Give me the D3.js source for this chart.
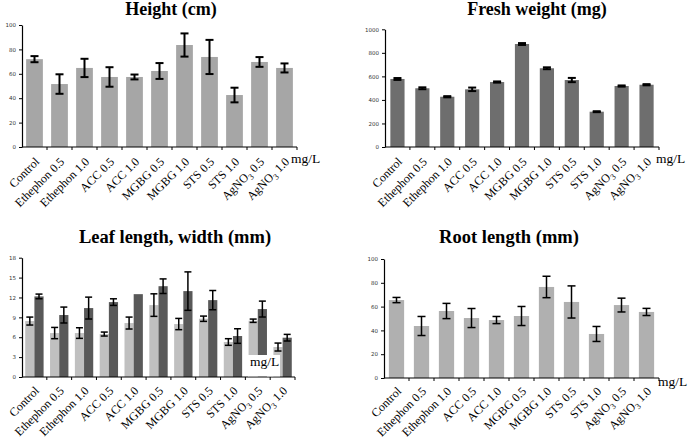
<!DOCTYPE html>
<html>
<head>
<meta charset="utf-8">
<script src="https://cdn.jsdelivr.net/npm/d3@7"></script>
<style>
  html, body { margin: 0; padding: 0; background: #fff; }
  svg { display: block; }
</style>
</head>
<body>
<svg id="chart" width="692" height="441"></svg>
<script>
const categories = ["Control","Ethephon 0.5","Ethephon 1.0","ACC 0.5","ACC 1.0","MGBG 0.5","MGBG 1.0","STS 0.5","STS 1.0","AgNO3 0.5","AgNO3 1.0"];

const heightMean = [72, 51.6, 64.8, 57.4, 57.4, 62.3, 83.6, 73.8, 42.6, 69.7, 64.8];
const heightErr  = [2.5, 8, 7.5, 8, 2, 6.5, 9.5, 14, 6, 4, 3.7];
const heightTicks = [0, 20, 40, 60, 80, 100];

const freshMean = [578, 499, 427, 490, 552, 875, 669, 569, 300, 518, 529];
const freshErr  = [8, 8, 5, 15, 5, 8, 8, 18, 4, 5, 5];
const freshTicks = [0, 200, 400, 600, 800, 1000];

const leafWidthMean  = [8.44, 6.63, 6.63, 6.48, 8.14, 10.85, 7.99, 8.79, 5.28, 8.49, 4.52];
const leafWidthErr   = [0.6, 0.85, 0.8, 0.3, 0.9, 1.7, 0.85, 0.4, 0.5, 0.25, 0.6];
const leafLengthMean = [12.16, 9.35, 10.4, 11.3, 12.5, 13.7, 12.96, 11.6, 6.18, 10.25, 5.93];
const leafLengthErr  = [0.35, 1.2, 1.65, 0.5, 0, 1.1, 2.9, 1.45, 1.1, 1.2, 0.5];
const leafTicks = [0, 3, 6, 9, 12, 15, 18];

const rootMean = [65.5, 43.7, 56.3, 50.4, 48.7, 52.1, 76.5, 63.9, 37, 61.3, 55.5];
const rootErr  = [2.2, 8, 6.4, 8, 3, 8, 9, 13.5, 6.3, 5.8, 3];
const rootTicks = [0, 20, 40, 60, 80, 100];

const svg = d3.select("#chart");
const SERIF = "'Liberation Serif','Times New Roman',serif";

function drawPanel(cfg) {
  const g = svg.append("g");
  const x = d3.scaleBand().domain(categories).range([cfg.x0, cfg.x1])
    .paddingInner(cfg.pad).paddingOuter(cfg.pad / 2);
  const y = d3.scaleLinear().domain([0, cfg.max]).range([cfg.y0, cfg.yTop]);

  // title
  g.append("text").attr("x", cfg.tx).attr("y", cfg.ty)
    .attr("text-anchor", "middle").attr("font-family", SERIF)
    .attr("font-weight", "bold").attr("font-size", cfg.tsize)
    .text(cfg.title);

  // series
  cfg.series.forEach((s, si) => {
    const n = cfg.series.length;
    const sub = d3.scaleBand().domain(d3.range(n)).range([0, x.bandwidth()]);
    const bw = sub.bandwidth();
    const bars = g.append("g");
    bars.selectAll("rect").data(categories).join("rect")
      .attr("x", d => x(d) + sub(si))
      .attr("width", bw)
      .attr("y", (d, i) => y(s.mean[i]))
      .attr("height", (d, i) => y(0) - y(s.mean[i]))
      .attr("fill", s.color);
    const eb = g.append("g").attr("stroke", "#000").attr("stroke-width", cfg.ew);
    categories.forEach((d, i) => {
      if (!s.err[i]) return;
      const cx = x(d) + sub(si) + bw / 2;
      const hi = y(s.mean[i] + s.err[i]), lo = y(s.mean[i] - s.err[i]);
      eb.append("line").attr("x1", cx).attr("x2", cx).attr("y1", hi).attr("y2", lo);
      eb.append("line").attr("x1", cx - cfg.cap).attr("x2", cx + cfg.cap).attr("y1", hi).attr("y2", hi);
      eb.append("line").attr("x1", cx - cfg.cap).attr("x2", cx + cfg.cap).attr("y1", lo).attr("y2", lo);
    });
  });

  // y axis
  const ya = d3.axisLeft(y).tickValues(cfg.ticks).tickFormat(d3.format("d"))
    .tickSize(3).tickSizeOuter(0).tickPadding(3);
  const yg = g.append("g").attr("transform", `translate(${cfg.x0},0)`).call(ya);
  yg.select(".domain").attr("stroke", "#000").attr("stroke-width", 1.2);
  yg.selectAll(".tick line").attr("stroke", "#000");
  yg.selectAll(".tick text").attr("font-size", 5.5).attr("font-family", "'DejaVu Sans',sans-serif").attr("fill", "#333");

  // x axis
  g.append("line").attr("x1", cfg.x0).attr("x2", cfg.x1).attr("y1", cfg.y0).attr("y2", cfg.y0)
    .attr("stroke", "#000").attr("stroke-width", 1.2);
  const bounds = categories.map(d => x(d) - x.step() * x.paddingInner() / 2).slice(1).concat([cfg.x1]);
  g.append("g").selectAll("line").data(bounds).join("line")
    .attr("x1", d => d).attr("x2", d => d).attr("y1", cfg.y0).attr("y2", cfg.y0 + 3)
    .attr("stroke", "#000");

  // x labels
  const lab = g.append("g").selectAll("text").data(categories).join("text")
    .attr("font-family", SERIF).attr("font-size", 12)
    .attr("text-anchor", "end")
    .attr("transform", d => `translate(${x(d) + x.bandwidth() / 2 + cfg.lx},${cfg.y0 + cfg.ly}) rotate(-45)`);
  lab.each(function(d) {
    const t = d3.select(this);
    if (d.startsWith("AgNO3")) {
      t.append("tspan").text("AgNO");
      t.append("tspan").attr("font-size", 8.5).attr("dy", 3).text("3");
      t.append("tspan").attr("dy", -3).text(d.slice(5));
    } else {
      t.text(d);
    }
  });

  if (cfg.mbg) {
    g.append("rect").attr("x", cfg.mx - 2).attr("y", cfg.my - 11)
      .attr("width", 32).attr("height", cfg.y0 - cfg.my + 10.4)
      .attr("fill", "#fff");
  }
  g.append("text").attr("x", cfg.mx).attr("y", cfg.my)
    .attr("font-family", SERIF).attr("font-size", 13.5).text("mg/L");
}

drawPanel({
  title: "Height (cm)", tx: 171, ty: 15, tsize: 18,
  x0: 22, x1: 297, y0: 147, yTop: 25, max: 100, ticks: heightTicks, pad: 0.33,
  series: [{ mean: heightMean, err: heightErr, color: "#a6a6a6" }],
  ew: 2, cap: 4, lx: 5.5, ly: 15.5, mx: 291, my: 163
});
drawPanel({
  title: "Fresh weight (mg)", tx: 537, ty: 15, tsize: 18,
  x0: 385, x1: 659, y0: 147, yTop: 29.3, max: 1000, ticks: freshTicks, pad: 0.43,
  series: [{ mean: freshMean, err: freshErr, color: "#6e6e6e" }],
  ew: 2, cap: 4, lx: 5.5, ly: 15.5, mx: 656, my: 163
});
drawPanel({
  title: "Leaf length, width (mm)", tx: 175, ty: 243, tsize: 18.5,
  x0: 22, x1: 295, y0: 377, yTop: 257.7, max: 18, ticks: leafTicks, pad: 0.26,
  series: [
    { mean: leafWidthMean, err: leafWidthErr, color: "#c0c0c0" },
    { mean: leafLengthMean, err: leafLengthErr, color: "#595959" }
  ],
  ew: 1.5, cap: 3.5, lx: 5.5, ly: 14.5, mx: 250, my: 366, mbg: true
});
drawPanel({
  title: "Root length (mm)", tx: 509, ty: 243, tsize: 18.5,
  x0: 384, x1: 659, y0: 378, yTop: 259, max: 100, ticks: rootTicks, pad: 0.39,
  series: [{ mean: rootMean, err: rootErr, color: "#b0b0b0" }],
  ew: 1.5, cap: 4, lx: 5.5, ly: 14, mx: 658, my: 386
});
</script>
</body>
</html>
